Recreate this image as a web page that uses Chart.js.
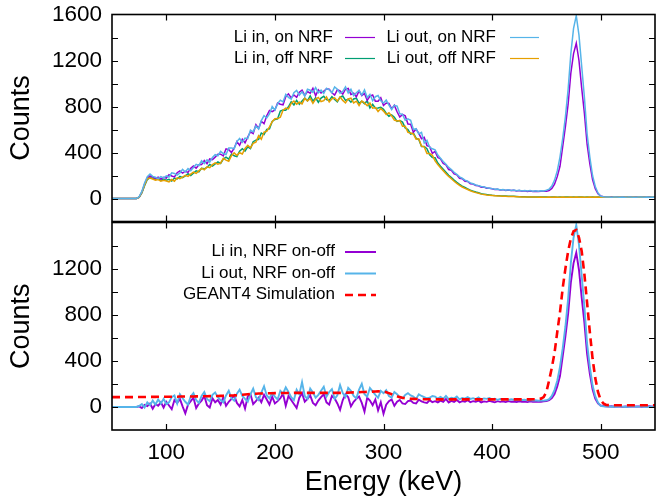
<!DOCTYPE html>
<html lang="en">
<head>
<meta charset="UTF-8">
<title>NRF spectra, Li in / Li out</title>
<script src="https://cdn.jsdelivr.net/npm/chart.js"></script>
<style>
  body { margin: 0; background: #ffffff; }
  #wrap { position: relative; width: 657px; height: 499px; }
  canvas { position: absolute; left: 0; }
  #topChart { top: 0; }
  #bottomChart { top: 221px; }
</style>
</head>
<body>
<div id="wrap">
  <canvas id="topChart" width="657" height="223"></canvas>
  <canvas id="bottomChart" width="657" height="278"></canvas>
</div>

<script>
  // energy channels (keV)
  const energy = [
    50,52.5,55,57.5,60,62.5,65,67.5,70,72.5,75,77.5,80,82.5,85,87.5,90,92.5,95,97.5,
    100,102.5,105,107.5,110,112.5,115,117.5,120,122.5,125,127.5,130,132.5,135,137.5,140,142.5,145,147.5,
    150,152.5,155,157.5,160,162.5,165,167.5,170,172.5,175,177.5,180,182.5,185,187.5,190,192.5,195,197.5,
    200,202.5,205,207.5,210,212.5,215,217.5,220,222.5,225,227.5,230,232.5,235,237.5,240,242.5,245,247.5,
    250,252.5,255,257.5,260,262.5,265,267.5,270,272.5,275,277.5,280,282.5,285,287.5,290,292.5,295,297.5,
    300,302.5,305,307.5,310,312.5,315,317.5,320,322.5,325,327.5,330,332.5,335,337.5,340,342.5,345,347.5,
    350,352.5,355,357.5,360,362.5,365,367.5,370,372.5,375,377.5,380,382.5,385,387.5,390,392.5,395,397.5,
    400,402.5,405,407.5,410,412.5,415,417.5,420,422.5,425,427.5,430,432.5,435,437.5,440,442.5,445,447.5,
    450,452.5,455,457.5,460,462.5,465,467.5,470,472.5,475,477.5,480,482.5,485,487.5,490,492.5,495,497.5,
    500,502.5,505,507.5,510,512.5,515,517.5,520,522.5,525,527.5,530,532.5,535,537.5,540,542.5,545,547.5,
    550
  ];

  // top panel
  const liInOn = [
    0,0,0,0,0,0,0,0,0,0,12,55,125,178,196,188,172,185,168,184,
    178,208,196,188,224,240,221,237,227,262,282,264,293,295,330,303,344,338,360,384,
    385,371,432,424,400,437,495,462,515,485,535,580,565,642,610,672,650,720,765,755,
    770,830,820,815,885,910,875,900,880,924,943,896,930,916,958,894,945,917,933,954,
    950,920,900,945,935,907,950,958,905,915,885,935,895,914,853,891,900,845,845,875,
    810,831,827,779,810,754,708,731,720,647,645,577,605,567,520,532,460,451,392,409,
    356,345,304,292,252,246,214,206,176,172,150,148,128,126,112,111,98,99,89,90,
    84,78,80,73,77,70,74,69,72,66,70,64,68,62,66,61,64,60,63,62,
    64,70,88,125,190,280,450,625,820,1090,1260,1350,1200,960,740,470,300,165,85,42,
    22,16,14,12,15,11,13,10,14,12,11,13,10,12,14,11,12,10,13,11,
    12
  ];
  const liOutOn = [
    0,0,0,0,0,0,0,0,0,0,15,62,135,190,212,192,185,172,190,178,
    196,187,223,218,203,222,254,231,260,241,270,297,287,328,303,336,317,356,381,372,
    410,391,382,439,440,432,495,522,490,525,520,595,580,632,605,677,720,700,735,800,
    770,825,855,840,905,880,865,920,940,899,928,891,950,941,923,964,920,942,913,959,
    945,920,970,950,915,932,970,918,950,895,920,940,900,944,878,906,850,885,895,850,
    830,856,812,774,810,804,738,731,680,692,680,602,605,562,575,482,505,446,432,424,
    378,350,322,298,270,252,228,210,188,176,160,150,136,128,118,112,104,100,94,90,
    86,80,83,75,79,72,76,70,74,68,72,66,70,65,69,64,68,63,67,66,
    72,82,108,160,240,360,520,710,950,1260,1480,1590,1420,1150,880,560,360,200,105,48,
    20,15,13,14,11,13,12,10,13,11,12,14,11,10,13,12,11,13,10,12,
    11
  ];
  const liInOff = [
    0,0,0,0,0,0,0,0,0,0,10,48,112,165,182,176,165,170,158,166,
    158,166,152,178,170,192,181,196,215,200,221,240,232,262,258,270,296,281,300,318,
    305,343,360,342,387,371,364,412,433,413,449,434,494,508,515,569,556,601,605,670,
    687,693,760,770,768,797,841,814,854,819,848,873,850,892,846,875,837,873,889,861,
    853,885,861,841,881,891,853,864,838,865,872,827,846,825,849,788,819,785,787,793,
    775,742,715,727,706,671,678,664,614,599,560,570,525,513,452,452,433,379,357,354,
    308,280,255,228,202,182,160,140,122,108,96,84,72,64,56,50,42,38,34,31,
    28,26,25,23,22,21,20,19,19,18,16,15,15,14,14,13,13,12,13,12,
    12,11,13,12,10,12,11,13,12,10,12,11,13,12,11,12,10,13,11,12,
    11,13,10,12,12,11,13,10,12,11,13,12,10,11,12,13,11,10,12,11,
    12
  ];
  const liOutOff = [
    0,0,0,0,0,0,0,0,0,0,12,52,118,172,178,170,160,165,150,158,
    152,145,165,150,180,172,185,202,192,212,230,218,240,262,250,275,268,295,310,298,
    307,349,334,324,373,397,374,398,387,435,463,440,480,490,545,515,578,583,623,668,
    693,695,706,768,786,779,827,848,820,837,822,871,848,870,828,865,879,843,851,883,
    839,867,875,847,883,853,831,866,872,831,846,809,848,831,807,830,785,791,757,783,
    760,730,745,718,682,674,678,628,629,575,569,561,516,519,455,449,391,391,375,327,
    295,268,242,216,192,172,150,132,115,100,88,78,67,58,51,45,38,34,30,28,
    26,24,22,21,20,19,18,17,17,16,15,14,14,13,13,12,12,11,12,11,
    11,12,10,13,11,10,12,11,10,12,11,13,10,12,11,10,12,11,13,10,
    12,10,11,13,10,12,11,12,10,13,11,10,12,11,13,10,12,11,10,12,
    11
  ];

  // bottom panel
  const liInDiff = [
    0,0,0,0,0,0,0,0,0,0,5,-10,18,8,30,-15,25,10,40,-5,
    45,12,-20,60,35,70,5,-55,20,50,80,-10,30,55,95,15,-5,75,40,60,
    20,85,10,45,70,100,35,5,60,-15,90,110,25,50,80,40,105,65,20,90,
    30,50,75,115,10,95,60,25,-10,80,120,45,70,100,35,15,55,85,110,40,
    20,95,75,30,-25,60,110,85,5,45,70,90,35,-40,80,55,15,65,-30,40,
    -60,20,50,65,10,45,60,30,25,50,55,35,30,62,48,40,35,58,42,50,
    40,55,45,70,38,52,44,60,40,50,46,58,42,50,45,55,40,48,44,52,
    46,40,50,44,48,42,50,45,47,43,49,44,46,42,48,45,44,47,45,48,
    50,58,76,112,178,268,438,612,808,1078,1248,1338,1188,948,728,458,288,153,73,30,
    12,8,5,4,6,2,5,3,1,4,2,6,3,4,5,2,3,4,6,3,
    4
  ];
  const liOutDiff = [
    0,0,0,0,0,0,0,0,0,0,8,25,-5,40,15,55,20,65,30,70,
    25,40,85,100,30,110,75,45,20,90,120,60,35,95,130,70,50,105,125,85,
    60,40,100,140,75,55,115,150,95,70,45,110,160,85,60,125,180,100,75,120,
    90,65,140,115,170,130,85,60,150,110,215,95,70,160,125,80,105,140,175,90,
    130,155,70,100,190,120,85,165,140,95,75,150,200,110,90,165,135,105,80,140,
    120,145,95,80,130,110,85,75,105,120,100,90,70,110,95,85,75,80,95,90,
    72,88,70,95,68,80,74,90,66,78,72,85,70,76,68,82,65,74,70,78,
    66,72,62,70,64,68,60,66,63,58,65,60,62,57,60,55,58,54,56,55,
    58,68,95,148,228,348,508,698,938,1248,1468,1578,1408,1138,868,548,348,188,94,38,
    10,5,3,6,2,4,1,5,3,0,4,2,5,1,3,4,2,0,3,2,
    3
  ];
  const geant4 = [
    85,85,85,85,85,85,85,85,85,86,86,86,86,87,87,87,87,88,88,88,
    88,88,89,89,89,90,90,90,91,91,91,92,92,92,93,93,94,94,95,95,
    96,96,97,98,99,100,102,104,106,108,110,112,114,115,116,117,118,118,119,119,
    120,120,120,121,121,121,121,122,122,122,122,122,122,122,122,122,122,122,122,122,
    122,122,122,122,122,123,123,124,125,126,127,128,129,130,131,132,133,134,135,136,
    134,128,120,110,100,92,85,80,76,73,71,70,69,68,68,67,67,67,66,66,
    66,66,66,66,66,66,66,66,66,66,66,66,66,66,66,66,66,66,66,66,
    66,66,66,66,66,66,66,66,66,66,66,66,66,66,66,67,67,68,72,85,
    130,230,340,470,650,820,1030,1200,1350,1460,1525,1535,1470,1350,1150,900,650,420,250,130,
    60,30,18,16,15,15,15,15,15,15,15,15,15,15,15,15,15,15,15,15,
    15
  ];

  // axis ticks
  const xTickLabels = [100, 200, 300, 400, 500];
  const yTickLabelsTop = [0, 400, 800, 1200, 1600];
  const yTickLabelsBottom = [0, 400, 800, 1200];
  const yTickMarks = [0, 200, 400, 600, 800, 1000, 1200, 1400];

  const FONT = '"Liberation Sans", Arial, sans-serif';
  const tickFont = { family: FONT, size: 22.5 };
  const titleFont = { family: FONT, size: 27 };

  const pts = arr => energy.map((e, i) => ({ x: e, y: arr[i] }));

  // no extra room for edge labels, the frame sits where padding says
  const noEdgePadding = s => {
    s.paddingTop = 0; s.paddingBottom = 0; s.paddingLeft = 0; s.paddingRight = 0;
  };

  // gnuplot-like frame with inward ticks
  const frameTicks = {
    id: 'frameTicks',
    afterDatasetsDraw(chart) {
      const { ctx, chartArea: a, scales: { x, y } } = chart;
      ctx.save();
      ctx.strokeStyle = '#000';
      ctx.lineWidth = 1.2;
      ctx.beginPath();
      yTickMarks.forEach(v => {
        const py = Math.round(y.getPixelForValue(v)) + 0.5;
        ctx.moveTo(a.left, py); ctx.lineTo(a.left + 6, py);
        ctx.moveTo(a.right, py); ctx.lineTo(a.right - 6, py);
      });
      xTickLabels.forEach(v => {
        const px = Math.round(x.getPixelForValue(v)) + 0.5;
        ctx.moveTo(px, a.top); ctx.lineTo(px, a.top + 6);
        ctx.moveTo(px, a.bottom); ctx.lineTo(px, a.bottom - 6);
      });
      ctx.stroke();
      ctx.lineWidth = 1.6;
      ctx.strokeRect(a.left, a.top, a.right - a.left, a.bottom - a.top);
      ctx.restore();
    }
  };

  // key: text right-aligned, line sample after it
  const keyBox = {
    id: 'keyBox',
    afterDraw(chart, args, opts) {
      const ctx = chart.ctx;
      ctx.save();
      ctx.font = '17px ' + FONT;
      ctx.fillStyle = '#000';
      ctx.textAlign = 'right';
      ctx.textBaseline = 'middle';
      opts.items.forEach(it => {
        const ds = chart.data.datasets[it.index];
        ctx.fillText(ds.label, it.textRight, it.y);
        ctx.strokeStyle = ds.borderColor;
        ctx.lineWidth = ds.keyWidth || ds.borderWidth;
        ctx.setLineDash(ds.borderDash || []);
        ctx.beginPath();
        ctx.moveTo(it.from, it.y + 0.5);
        ctx.lineTo(it.to, it.y + 0.5);
        ctx.stroke();
      });
      ctx.restore();
    }
  };

  const yAxis = (labels) => ({
    min: -200, max: 1600,
    afterFit: s => { s.width = 112; noEdgePadding(s); },
    afterBuildTicks: s => { s.ticks = labels.map(v => ({ value: v })); },
    grid: { display: false, drawTicks: false },
    border: { display: false },
    ticks: { padding: 10, font: tickFont, color: '#000', callback: v => String(v) },
    title: { display: true, text: 'Counts', font: titleFont, color: '#000', padding: { top: 5.5, bottom: 0 } }
  });

  // TOP PANEL
  new Chart(document.getElementById('topChart'), {
    type: 'line',
    data: {
      datasets: [
        { label: 'Li in, on NRF', data: pts(liInOn), borderColor: '#9400d3', borderWidth: 1.5, keyWidth: 1.2, order: 2 },
        { label: 'Li out, on NRF', data: pts(liOutOn), borderColor: '#56b4e9', borderWidth: 1.5, keyWidth: 1.2, order: 0 },
        { label: 'Li in, off NRF', data: pts(liInOff), borderColor: '#009e73', borderWidth: 1.5, keyWidth: 1.2, order: 3 },
        { label: 'Li out, off NRF', data: pts(liOutOff), borderColor: '#e69f00', borderWidth: 1.5, keyWidth: 1.2, order: 1 }
      ]
    },
    options: {
      responsive: false,
      animation: false,
      events: [],
      layout: { padding: { top: 14.5, right: 2, bottom: 1.5, left: 0 } },
      elements: { point: { radius: 0 }, line: { tension: 0 } },
      scales: {
        x: { type: 'linear', min: 50, max: 550, display: false, afterFit: noEdgePadding },
        y: yAxis(yTickLabelsTop)
      },
      plugins: {
        legend: { display: false },
        tooltip: { enabled: false },
        keyBox: {
          items: [
            { index: 0, textRight: 333, y: 37, from: 345, to: 375 },
            { index: 1, textRight: 496, y: 37, from: 510, to: 539 },
            { index: 2, textRight: 333, y: 58, from: 345, to: 375 },
            { index: 3, textRight: 496, y: 58, from: 510, to: 539 }
          ]
        }
      }
    },
    plugins: [frameTicks, keyBox]
  });

  // BOTTOM PANEL
  new Chart(document.getElementById('bottomChart'), {
    type: 'line',
    data: {
      datasets: [
        { label: 'Li in, NRF on-off', data: pts(liInDiff), borderColor: '#9400d3', borderWidth: 1.9, keyWidth: 2, order: 2 },
        { label: 'Li out, NRF on-off', data: pts(liOutDiff), borderColor: '#56b4e9', borderWidth: 1.9, keyWidth: 2, order: 1 },
        { label: 'GEANT4 Simulation', data: pts(geant4), borderColor: '#ff0000', borderWidth: 2.6, borderDash: [8, 5], order: 0 }
      ]
    },
    options: {
      responsive: false,
      animation: false,
      events: [],
      layout: { padding: { top: 1.5, right: 2, bottom: 0, left: 0 } },
      elements: { point: { radius: 0 }, line: { tension: 0 } },
      scales: {
        x: {
          type: 'linear', min: 50, max: 550,
          afterFit: s => { s.height = 69; noEdgePadding(s); },
          afterBuildTicks: s => { s.ticks = xTickLabels.map(v => ({ value: v })); },
          grid: { display: false, drawTicks: false },
          border: { display: false },
          ticks: { padding: 9, font: tickFont, color: '#000', maxRotation: 0, callback: v => String(v) },
          title: { display: true, text: 'Energy (keV)', font: titleFont, color: '#000', padding: { top: 0, bottom: 0 } }
        },
        y: yAxis(yTickLabelsBottom)
      },
      plugins: {
        legend: { display: false },
        tooltip: { enabled: false },
        keyBox: {
          items: [
            { index: 0, textRight: 335, y: 30.5, from: 345, to: 376 },
            { index: 1, textRight: 335, y: 52, from: 345, to: 376 },
            { index: 2, textRight: 335, y: 73.5, from: 345, to: 376 }
          ]
        }
      }
    },
    plugins: [frameTicks, keyBox]
  });
</script>
</body>
</html>
